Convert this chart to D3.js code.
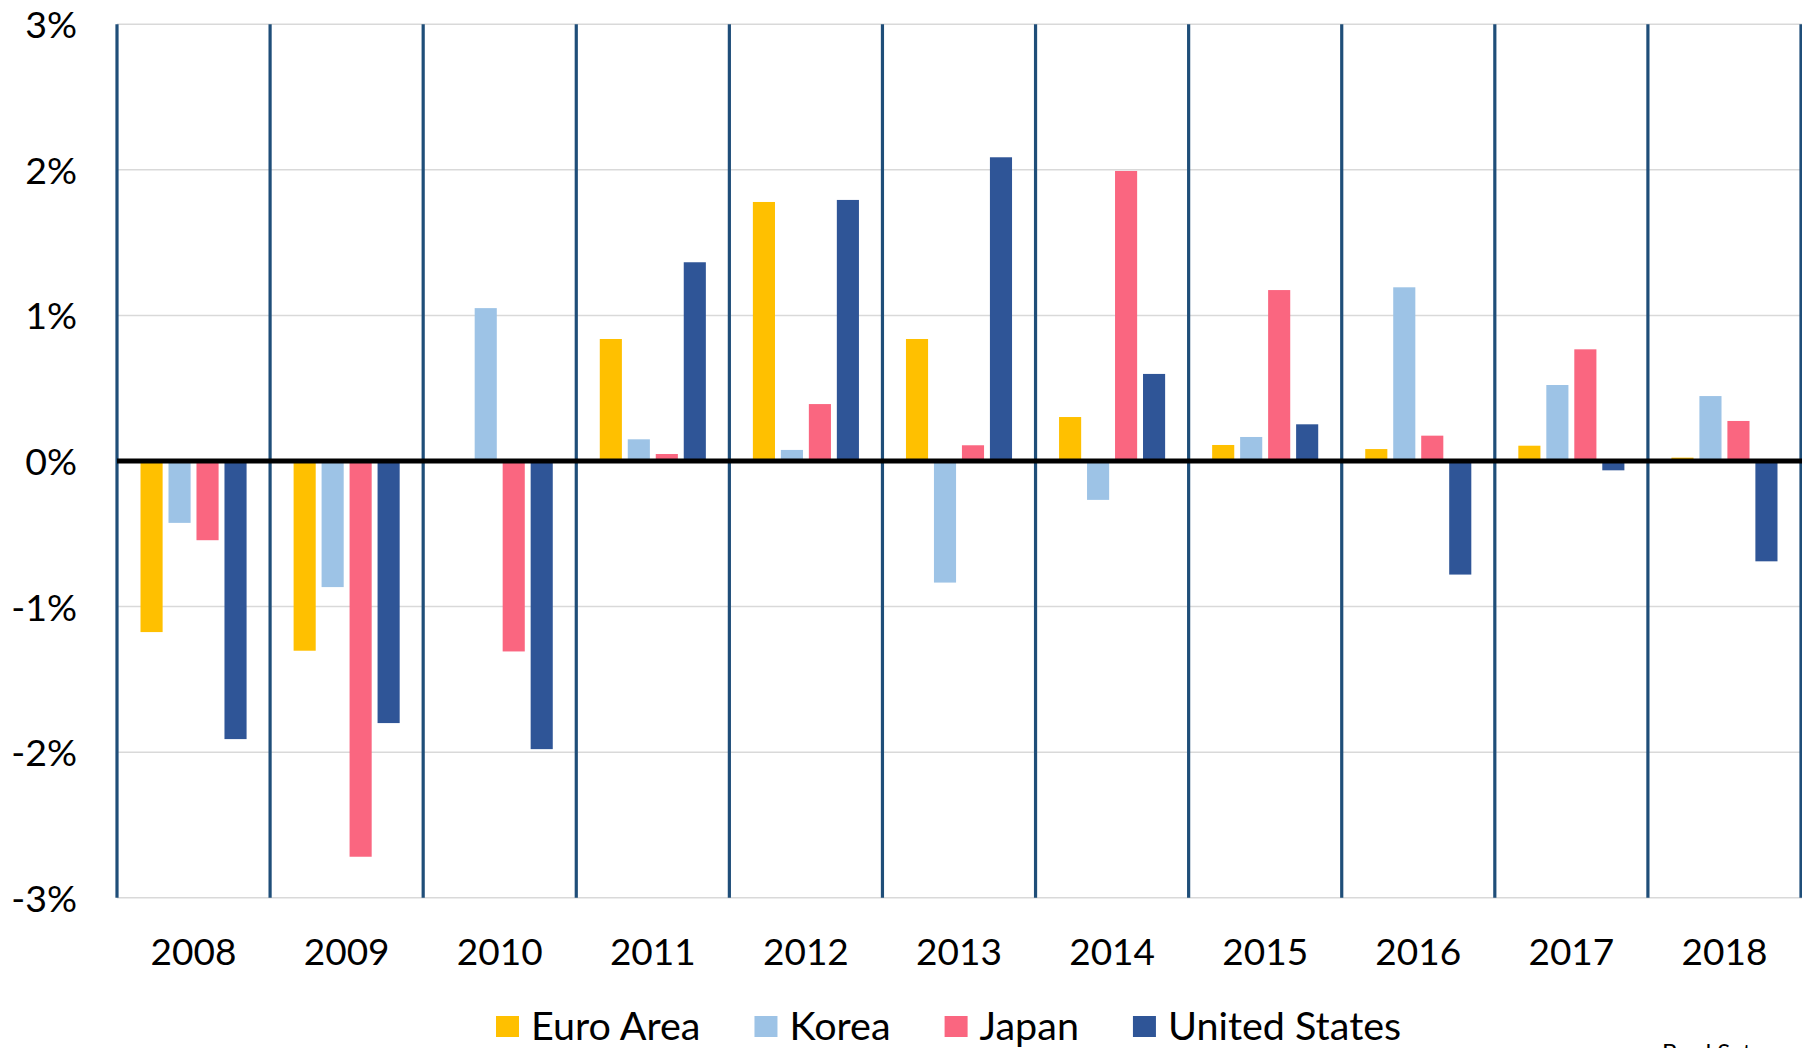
<!DOCTYPE html>
<html>
<head>
<meta charset="utf-8">
<script src="https://cdn.jsdelivr.net/npm/d3@7"></script>
<style>
  html, body { margin: 0; padding: 0; background: #ffffff; overflow: hidden; }
  svg { display: block; font-family: Lato, "Open Sans", sans-serif; }
</style>
</head>
<body>
<svg id="chart" width="1802" height="1048"></svg>
<script>
// ---- Data ----
const years = ["2008","2009","2010","2011","2012","2013","2014","2015","2016","2017","2018"];
const seriesNames = ["Euro Area","Korea","Japan","United States"];
const euroArea     = [-1.175, -1.303, null,   0.838, 1.779,  0.838,  0.302, 0.110,  0.082,  0.105,  0.023];
const korea        = [-0.425, -0.866, 1.050,  0.149, 0.076, -0.835, -0.267, 0.165,  1.193,  0.522,  0.446];
const japan        = [-0.544, -2.718, -1.308, 0.048, 0.391,  0.108,  1.992, 1.174,  0.174,  0.767,  0.275];
const unitedStates = [-1.910, -1.800, -1.979, 1.365, 1.793,  2.086,  0.598, 0.252, -0.780, -0.064, -0.689];
const yTicks = [-3, -2, -1, 0, 1, 2, 3];
const sourceNote = "Brad Setser";

const seriesValues = [euroArea, korea, japan, unitedStates];
const colors = ["#FFC000", "#9DC3E6", "#FA6680", "#2F5597"];

// ---- Layout ----
const svg = d3.select("#chart");
const plotLeft = 117, plotRight = 1801, plotTop = 24.2, plotBottom = 897.8;

const x0 = d3.scaleBand().domain(years).range([plotLeft, plotRight]).paddingInner(0).paddingOuter(0);
const x1 = d3.scaleBand().domain(seriesNames).range([0, x0.bandwidth()])
  .paddingInner(0.21).paddingOuter(0.84);
const y = d3.scaleLinear().domain([-3, 3]).range([plotBottom, plotTop]);
const color = d3.scaleOrdinal().domain(seriesNames).range(colors);

// gridlines
svg.append("g").selectAll("line").data(yTicks.filter(d => d !== 0)).join("line")
  .attr("x1", plotLeft).attr("x2", plotRight + 1)
  .attr("y1", d => y(d)).attr("y2", d => y(d))
  .attr("stroke", "#D9D9D9").attr("stroke-width", 1.5);

// y-axis labels
const yAxis = d3.axisLeft(y).tickValues(yTicks).tickFormat(d => d + "%").tickSize(0).tickPadding(0);
const yg = svg.append("g").attr("transform", `translate(${77},0)`).call(yAxis);
yg.select(".domain").remove();
yg.selectAll("text").attr("font-size", 37.5).attr("fill", "#000").attr("font-family", "Lato, 'Open Sans', sans-serif")
  .attr("dy", "0.36em");

// category separator lines
const seps = years.map(d => x0(d)).concat([x0(years[years.length - 1]) + x0.bandwidth()]);
svg.append("g").selectAll("line").data(seps).join("line")
  .attr("x1", d => d).attr("x2", d => d)
  .attr("y1", plotTop).attr("y2", plotBottom)
  .attr("stroke", "#1F4E79").attr("stroke-width", 3.2);

// bars
const barData = [];
years.forEach((yr, i) => {
  seriesNames.forEach((s, j) => {
    const v = seriesValues[j][i];
    if (v !== null) barData.push({ year: yr, series: s, value: v });
  });
});
svg.append("g").selectAll("rect").data(barData).join("rect")
  .attr("x", d => x0(d.year) + x1(d.series))
  .attr("width", x1.bandwidth())
  .attr("y", d => y(Math.max(0, d.value)))
  .attr("height", d => Math.abs(y(d.value) - y(0)))
  .attr("fill", d => color(d.series));

// zero line
svg.append("line")
  .attr("x1", plotLeft).attr("x2", plotRight + 1)
  .attr("y1", y(0)).attr("y2", y(0))
  .attr("stroke", "#000").attr("stroke-width", 5);

// x-axis labels
const xAxis = d3.axisBottom(x0).tickSize(0).tickPadding(0);
const xg = svg.append("g").attr("transform", `translate(0,${965})`).call(xAxis);
xg.select(".domain").remove();
xg.selectAll("text").attr("font-size", 37).attr("fill", "#000").attr("font-family", "Lato, 'Open Sans', sans-serif")
  .attr("dy", 0).attr("y", 0);

// legend
const legend = svg.append("g");
let lx = 496;
seriesNames.forEach((s, i) => {
  const g = legend.append("g");
  g.append("rect").attr("x", lx).attr("y", 1016).attr("width", 23).attr("height", 21).attr("fill", color(s));
  const t = g.append("text").attr("x", lx + 35).attr("y", 1040)
    .attr("font-size", 39.5).attr("fill", "#000").text(s);
  lx = lx + 35 + t.node().getComputedTextLength() + 54;
});

// source note (partially cut off at the bottom edge, as in the reference)
svg.append("text").attr("x", 1662).attr("y", 1061).attr("font-size", 24).attr("fill", "#000").text(sourceNote);
</script>
</body>
</html>
